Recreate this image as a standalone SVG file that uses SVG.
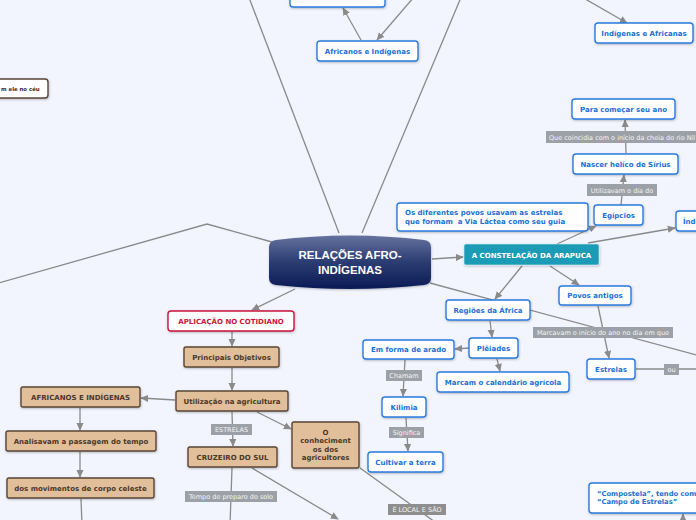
<svg xmlns="http://www.w3.org/2000/svg" width="696" height="520" viewBox="0 0 696 520">
<defs>
<marker id="arr" viewBox="0 0 10 10" refX="9" refY="5" markerWidth="8" markerHeight="8" markerUnits="userSpaceOnUse" orient="auto"><path d="M0,0.5 L10,5 L0,9.5 Z" fill="#8a8a8a"/></marker>
<linearGradient id="cg" x1="0" y1="0" x2="0" y2="1"><stop offset="0" stop-color="#65729e"/><stop offset="0.5" stop-color="#2b3c72"/><stop offset="1" stop-color="#0b1b55"/></linearGradient>
<filter id="sh" x="-10%" y="-20%" width="120%" height="150%"><feDropShadow dx="0.5" dy="1" stdDeviation="0.8" flood-color="#000" flood-opacity="0.25"/></filter>
</defs>
<style>
.c{stroke:#8a8a8a;stroke-width:1.3;fill:none}
.a{marker-end:url(#arr)}
.bn rect{fill:#fff;stroke:#2a7bdc;stroke-width:1.4;filter:url(#sh)}
.bn text{fill:#1a6fd6;font-family:"DejaVu Sans",Verdana,sans-serif;font-weight:bold;font-size:7px;text-anchor:middle}
.tn rect{fill:#e2bf9b;stroke:#5a4535;stroke-width:1.4;filter:url(#sh)}
.tn text{fill:#4a3828;font-family:"DejaVu Sans",Verdana,sans-serif;font-weight:bold;font-size:7px;text-anchor:middle}
.lb rect{fill:#9ca1a7}
.lb text{fill:#f4f4f4;font-family:"DejaVu Sans",Verdana,sans-serif;font-size:6.5px;text-anchor:middle}
.ld rect{fill:#8e8e8e}
</style>
<rect width="696" height="520" fill="#f2f5fe"/>
<g id="connectors">
<line class="c" x1="248" y1="-5" x2="339" y2="233"/>
<line class="c" x1="462" y1="-5" x2="362" y2="233"/>
<line class="c a" x1="580" y1="-4" x2="627" y2="23"/>
<line class="c a" x1="361" y1="40" x2="343" y2="8"/>
<line class="c a" x1="414" y1="-3" x2="377" y2="40"/>
<polyline class="c" points="272,242 207,224 -5,284"/>
<line class="c a" x1="432" y1="259" x2="463" y2="257"/>
<line class="c a" x1="295" y1="289" x2="252" y2="310"/>
<line class="c" x1="430" y1="283" x2="700" y2="356"/>
<line class="c a" x1="557" y1="244" x2="596" y2="226"/>
<line class="c a" x1="588" y1="243" x2="675" y2="228"/>
<line class="c a" x1="522" y1="266" x2="495" y2="299"/>
<line class="c a" x1="550" y1="266" x2="579" y2="285"/>
<line class="c a" x1="490" y1="321" x2="492" y2="337"/>
<line class="c a" x1="469" y1="348" x2="455" y2="349"/>
<line class="c a" x1="497" y1="359" x2="500" y2="371"/>
<line class="c a" x1="405" y1="360" x2="403" y2="396"/>
<line class="c a" x1="406" y1="418" x2="408" y2="451"/>
<line class="c a" x1="598" y1="306" x2="609" y2="358"/>
<line class="c" x1="636" y1="369" x2="700" y2="369"/>
<line class="c a" x1="683" y1="525" x2="683" y2="514"/>
<line class="c a" x1="621" y1="205" x2="624" y2="175"/>
<line class="c a" x1="626" y1="153" x2="625" y2="120"/>
<line class="c a" x1="232" y1="332" x2="232" y2="346"/>
<line class="c a" x1="232" y1="368" x2="232" y2="390"/>
<line class="c a" x1="175" y1="400" x2="141" y2="398"/>
<line class="c a" x1="80" y1="408" x2="80" y2="430"/>
<line class="c a" x1="80" y1="452" x2="80" y2="477"/>
<line class="c" x1="81" y1="499" x2="82" y2="525"/>
<line class="c a" x1="232" y1="412" x2="233" y2="446"/>
<line class="c a" x1="257" y1="412" x2="291" y2="429"/>
<line class="c" x1="232" y1="468" x2="230" y2="525"/>
<line class="c a" x1="252" y1="468" x2="338" y2="519"/>
<line class="c" x1="360" y1="468" x2="435" y2="522"/>
<g class="lb"><rect x="386" y="370" width="36" height="11"/><text x="404" y="378.3">Chamam</text></g>
<g class="lb"><rect x="389" y="427" width="35" height="11"/><text x="406.5" y="435.3">Significa</text></g>
<g class="lb"><rect x="533" y="327" width="140" height="11"/><text x="603" y="335.3">Marcavam o início do ano no dia em que</text></g>
<g class="lb"><rect x="664" y="364" width="15" height="11"/><text x="671.5" y="372.3">ou</text></g>
<g class="lb"><rect x="587" y="184" width="70" height="12"/><text x="622" y="192.6">Utilizavam o dia do</text></g>
<g class="lb"><rect x="546" y="131" width="160" height="12"/><text x="549" y="139.6" style="text-anchor:start">Que coincidia com o início da cheia do rio Nil</text></g>
<g class="lb"><rect x="211" y="424" width="41" height="11"/><text x="231.5" y="432.3">ESTRELAS</text></g>
<g class="lb"><rect x="185" y="491" width="92" height="11"/><text x="231" y="499.3">Tempo de preparo do solo</text></g>
<g class="lb ld"><rect x="388" y="504" width="58" height="11"/><text x="417" y="512.3">É LOCAL E SÃO</text></g>
</g>
<g id="n-top" class="bn"><rect x="290" y="-20" width="95" height="27" rx="3"/></g>
<g id="n-afr-ind" class="bn"><rect x="317" y="41" width="101" height="20" rx="3"/><text x="367.5" y="53.5">Africanos e Indígenas</text></g>
<g id="n-ind-afr" class="bn"><rect x="595" y="23" width="98" height="20" rx="3"/><text x="644" y="35.5">Indígenas e Africanas</text></g>
<g id="n-ceu"><rect x="-60" y="79" width="108" height="19" rx="3" fill="#fff" stroke="#5a4535" stroke-width="1.4" filter="url(#sh)"/><text x="1" y="91" fill="#3a2a20" font-family="DejaVu Sans, Verdana, sans-serif" font-weight="bold" font-size="5.4">m ele no céu</text></g>
<g id="n-central"><path d="M276,240 Q350,231 424,240 Q431,241 431,247 L431,278 Q431,284 424,285 Q350,293 276,285 Q269,284 269,278 L269,247 Q269,241 276,240 Z" fill="url(#cg)" filter="url(#sh)"/><text x="350" y="259" fill="#fff" font-family="Liberation Sans, Arial, sans-serif" font-weight="bold" font-size="11.5" text-anchor="middle">RELAÇÕES AFRO-</text><text x="350" y="273.5" fill="#fff" font-family="Liberation Sans, Arial, sans-serif" font-weight="bold" font-size="11.5" text-anchor="middle">INDÍGENAS</text></g>
<g id="n-arapuca"><rect x="464" y="244" width="135" height="21" rx="2" fill="#1a9bb6" stroke="#d8eef4" stroke-width="0.6" filter="url(#sh)"/><text x="531.5" y="257.5" fill="#fff" font-family="DejaVu Sans, Verdana, sans-serif" font-weight="bold" font-size="7" text-anchor="middle">A CONSTELAÇÃO DA ARAPUCA</text></g>
<g id="n-povos-diferentes" class="bn"><rect x="397" y="203" width="191" height="28" rx="3"/><text x="405" y="215" style="text-anchor:start">Os diferentes povos usavam as estrelas</text><text x="405" y="223.5" style="text-anchor:start;white-space:pre" xml:space="preserve">que formam  a Via Láctea como seu guia</text></g>
<g id="n-egipcios" class="bn"><rect x="594" y="205" width="49" height="20" rx="3"/><text x="618.5" y="217.5">Egípcios</text></g>
<g id="n-ind" class="bn"><rect x="676" y="211" width="40" height="20" rx="3"/><text x="683" y="223.5" style="text-anchor:start">Índ</text></g>
<g id="n-povos-antigos" class="bn"><rect x="559" y="286" width="72" height="19" rx="3"/><text x="595" y="298">Povos antigos</text></g>
<g id="n-regioes" class="bn"><rect x="446" y="300" width="84" height="20" rx="3"/><text x="488" y="312.5">Regiões da África</text></g>
<g id="n-pleiades" class="bn"><rect x="469" y="338" width="49" height="20" rx="3"/><text x="493.5" y="350.5">Plêiades</text></g>
<g id="n-arado" class="bn"><rect x="363" y="340" width="91" height="19" rx="3"/><text x="408.5" y="352">Em forma de arado</text></g>
<g id="n-calendario" class="bn"><rect x="437" y="372" width="132" height="20" rx="3"/><text x="503" y="384.5">Marcam o calendário agrícola</text></g>
<g id="n-kilimia" class="bn"><rect x="382" y="397" width="44" height="20" rx="3"/><text x="404" y="409.5">Kilimia</text></g>
<g id="n-cultivar" class="bn"><rect x="368" y="452" width="75" height="20" rx="3"/><text x="405.5" y="464.5">Cultivar a terra</text></g>
<g id="n-estrelas" class="bn"><rect x="587" y="359" width="48" height="20" rx="3"/><text x="611" y="371.5">Estrelas</text></g>
<g id="n-compostela" class="bn"><rect x="589" y="483" width="120" height="30" rx="3"/><text x="597" y="496" style="text-anchor:start;font-size:6.8px">“Compostela”, tendo com</text><text x="597" y="504" style="text-anchor:start;font-size:6.8px">“Campo de Estrelas”</text></g>
<g id="n-para-comecar" class="bn"><rect x="572" y="99" width="103" height="20" rx="3"/><text x="623.5" y="111.5">Para começar seu ano</text></g>
<g id="n-nascer" class="bn"><rect x="573" y="154" width="105" height="20" rx="3"/><text x="625.5" y="166.5">Nascer helíco de Sírius</text></g>
<g id="n-aplicacao"><rect x="168" y="311" width="126" height="20" rx="3" fill="#fff" stroke="#c8163a" stroke-width="1.4" filter="url(#sh)"/><text x="231" y="323.5" fill="#c8163a" font-family="DejaVu Sans, Verdana, sans-serif" font-weight="bold" font-size="7" text-anchor="middle">APLICAÇÃO NO COTIDIANO</text></g>
<g id="n-objetivos" class="tn"><rect x="184" y="347" width="95" height="20" rx="2"/><text x="231.5" y="359.5">Principais Objetivos</text></g>
<g id="n-agricultura" class="tn"><rect x="176" y="391" width="112" height="20" rx="2"/><text x="232" y="403.5">Utilização na agricultura</text></g>
<g id="n-afr-ind-2" class="tn"><rect x="21" y="387" width="119" height="20" rx="2"/><text x="80.5" y="399.5">AFRICANOS E INDÍGENAS</text></g>
<g id="n-analisavam" class="tn"><rect x="6" y="431" width="150" height="20" rx="2"/><text x="81" y="443.5">Analisavam a passagem do tempo</text></g>
<g id="n-movimentos" class="tn"><rect x="7" y="478" width="147" height="20" rx="2"/><text x="80.5" y="490.5">dos movimentos de corpo celeste</text></g>
<g id="n-cruzeiro" class="tn"><rect x="188" y="447" width="89" height="20" rx="2"/><text x="232.5" y="459.5">CRUZEIRO DO SUL</text></g>
<g id="n-conhecimento" class="tn"><rect x="292" y="422" width="67" height="46" rx="2"/><text x="325.5" y="434.5">O</text><text x="325.5" y="443">conheciment</text><text x="325.5" y="451.5">os dos</text><text x="325.5" y="460">agricultores</text></g>
</svg>
